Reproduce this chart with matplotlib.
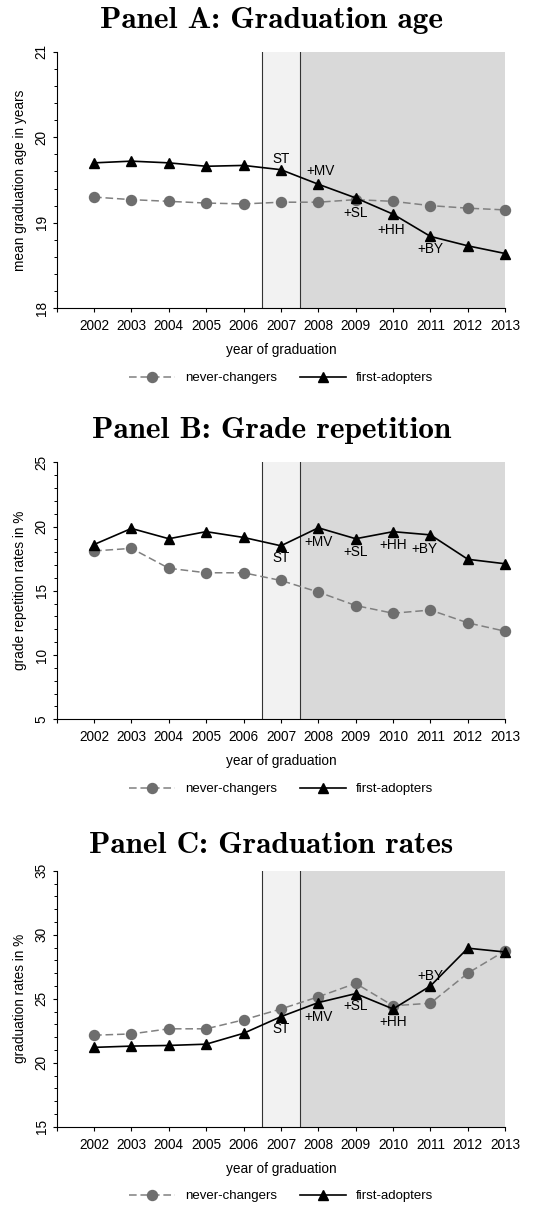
import numpy as np
import matplotlib
matplotlib.use('Agg')
import matplotlib.pyplot as plt
from matplotlib.ticker import MultipleLocator, FixedLocator

plt.rcParams['font.family'] = ['Liberation Sans', 'DejaVu Sans']

years = list(range(2002, 2014))

# panel A: mean graduation age in years
age_never = [19.30, 19.27, 19.25, 19.23, 19.22, 19.24, 19.24, 19.27, 19.25, 19.20, 19.17, 19.15]
age_first = [19.70, 19.72, 19.70, 19.66, 19.67, 19.62, 19.45, 19.29, 19.10, 18.84, 18.73, 18.64]

# panel B: grade repetition rates in %
rep_never = [18.1, 18.3, 16.75, 16.4, 16.4, 15.8, 14.9, 13.85, 13.25, 13.5, 12.5, 11.85]
rep_first = [18.6, 19.85, 19.05, 19.6, 19.15, 18.5, 19.9, 19.05, 19.6, 19.35, 17.45, 17.1]

# panel C: graduation rates in %
grad_never = [22.15, 22.25, 22.65, 22.65, 23.35, 24.2, 25.15, 26.2, 24.45, 24.65, 27.0, 28.75]
grad_first = [21.2, 21.3, 21.35, 21.45, 22.3, 23.6, 24.7, 25.4, 24.2, 26.0, 28.95, 28.65]

reform_labels = ['ST', '+MV', '+SL', '+HH', '+BY']

panels = [
    dict(title='Panel A: Graduation age', ylabel='mean graduation age in years',
         never=age_never, first=age_first, ylim=(18, 21), major=1, minor=0.2,
         ann=[(2007, 19.75), (2008.05, 19.60), (2009, 19.11), (2009.95, 18.92), (2011, 18.69)],
         rect=[0.1044, 0.7446, 0.826, 0.2126], title_y=1 - 28.3 / 1207),
    dict(title='Panel B: Grade repetition', ylabel='grade repetition rates in %',
         never=rep_never, first=rep_first, ylim=(5, 25), major=5, minor=1,
         ann=[(2007, 17.53), (2008, 18.77), (2009, 18.0), (2010, 18.57), (2010.85, 18.26)],
         rect=[0.1044, 0.4041, 0.826, 0.2129], title_y=1 - 438.3 / 1207),
    dict(title='Panel C: Graduation rates', ylabel='graduation rates in %',
         never=grad_never, first=grad_first, ylim=(15, 35), major=5, minor=1,
         ann=[(2007, 22.6), (2008, 23.54), (2009, 24.43), (2010, 23.2), (2011, 26.8)],
         rect=[0.1044, 0.0665, 0.826, 0.2121], title_y=1 - 853.3 / 1207),
]

fs = 9.8

fig = plt.figure(figsize=(5.43, 12.07), dpi=100)

for p in panels:
    ax = fig.add_axes(p['rect'])
    ax.set_xlim(2001, 2013)
    ax.set_ylim(*p['ylim'])

    # reform period shading
    ax.axvspan(2006.5, 2007.5, color='#f2f2f2', zorder=0, lw=0)
    ax.axvspan(2007.5, 2013, color='#d9d9d9', zorder=0, lw=0)
    ax.axvline(2006.5, color='#333333', lw=0.8, zorder=1)
    ax.axvline(2007.5, color='#333333', lw=0.8, zorder=1)

    ax.plot(years, p['never'], color='#808080', lw=1.1, dashes=(5, 2.5),
            marker='o', ms=7.2, mfc='#6e6e6e', mec='#6e6e6e',
            label='never-changers', clip_on=False, zorder=3)
    ax.plot(years, p['first'], color='black', lw=1.2,
            marker='^', ms=7.5, mfc='black', mec='black',
            label='first-adopters', clip_on=False, zorder=4)

    for lab, (tx, ty) in zip(reform_labels, p['ann']):
        ax.text(tx, ty, lab, ha='center', va='center', fontsize=fs, zorder=5)

    for s in ['top', 'right']:
        ax.spines[s].set_visible(False)
    ax.spines['left'].set_linewidth(0.8)
    ax.spines['bottom'].set_linewidth(0.8)

    ax.xaxis.set_major_locator(FixedLocator(years))
    ax.xaxis.set_minor_locator(FixedLocator([2001]))
    ax.tick_params(axis='x', which='both', length=3, width=0.8, pad=5, labelsize=fs)
    ax.yaxis.set_major_locator(MultipleLocator(p['major']))
    ax.yaxis.set_minor_locator(MultipleLocator(p['minor']))
    ax.tick_params(axis='y', which='major', length=3.2, width=0.8, pad=2.5, labelsize=fs)
    ax.tick_params(axis='y', which='minor', length=2, width=0.7)
    for t in ax.get_yticklabels():
        t.set_rotation(90)
        t.set_va('center')

    ax.set_xlabel('year of graduation', fontsize=fs, labelpad=7)
    ax.set_ylabel(p['ylabel'], fontsize=fs, labelpad=5.5)

    ax.legend(loc='center', bbox_to_anchor=(0.5, -0.272), ncol=2, frameon=False,
              fontsize=9.5, handlelength=3.5, handletextpad=0.75, columnspacing=1.7)

    fig.text(0.5, p['title_y'], p['title'], ha='center', va='baseline',
             fontsize=22.5, family='cmb10')

fig.savefig('out.png', dpi=100)
